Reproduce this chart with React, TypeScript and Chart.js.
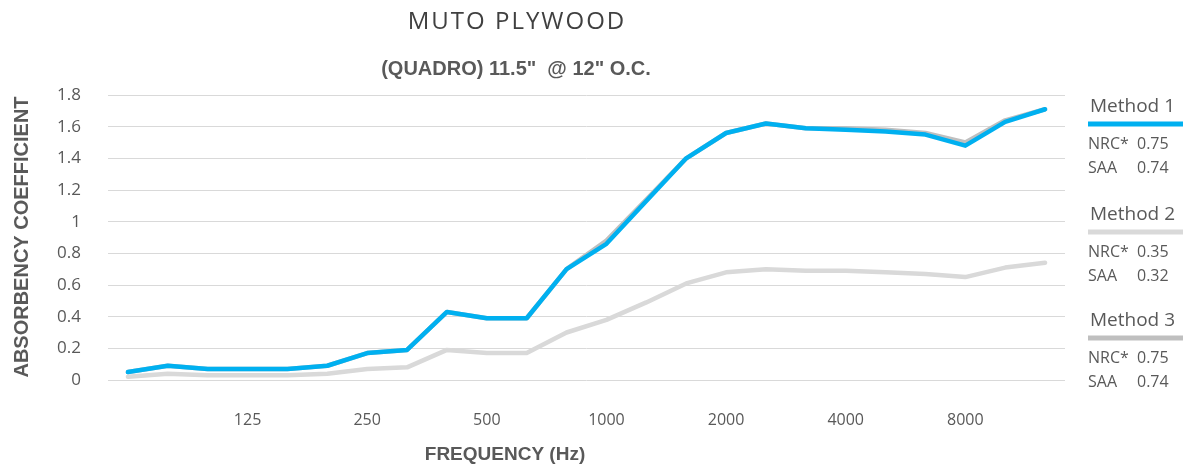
import React, { useEffect, useRef } from 'react';
import { Chart, registerables } from 'chart.js';

Chart.register(...registerables);

const FREQUENCIES = ['63', '80', '100', '125', '160', '200', '250', '315', '400', '500', '630', '800', '1000', '1250', '1600', '2000', '2500', '3150', '4000', '5000', '6300', '8000', '10000', '12500'];
const X_TICK_LABELS = ['', '', '', '125', '', '', '250', '', '', '500', '', '', '1000', '', '', '2000', '', '', '4000', '', '', '8000', '', ''];
const METHOD_1 = [0.05, 0.09, 0.07, 0.07, 0.07, 0.09, 0.17, 0.19, 0.43, 0.39, 0.39, 0.70, 0.86, 1.13, 1.40, 1.56, 1.62, 1.59, 1.58, 1.57, 1.55, 1.48, 1.63, 1.71];
const METHOD_2 = [0.02, 0.04, 0.03, 0.03, 0.03, 0.04, 0.07, 0.08, 0.19, 0.17, 0.17, 0.30, 0.38, 0.49, 0.61, 0.68, 0.70, 0.69, 0.69, 0.68, 0.67, 0.65, 0.71, 0.74];
const METHOD_3 = [0.05, 0.09, 0.07, 0.07, 0.07, 0.09, 0.17, 0.19, 0.43, 0.39, 0.39, 0.70, 0.88, 1.14, 1.40, 1.56, 1.62, 1.59, 1.59, 1.58, 1.56, 1.50, 1.64, 1.71];
const SERIES_NAMES = ['Method 1', 'Method 2', 'Method 3'];
const SERIES_COLORS = ['#00B0F0', '#D9D9D9', '#BFBFBF'];
const NRC_VALUES = ['0.75', '0.35', '0.75'];
const SAA_VALUES = ['0.74', '0.32', '0.74'];
const TITLE = 'MUTO PLYWOOD';
const SUBTITLE = '(QUADRO) 11.5"  @ 12" O.C.';
const X_TITLE = 'FREQUENCY (Hz)';
const Y_TITLE = 'ABSORBENCY COEFFICIENT';

const LIGHT = "'Open Sans', 'DejaVu Sans', sans-serif";
const BOLD = "'Liberation Sans', Arial, sans-serif";
const TEXT = '#595959';

const textPlugin = {
  id: 'textPlugin',
  afterDraw(chart: any) {
    const ctx = chart.ctx as any;
    ctx.save();
    ctx.textBaseline = 'alphabetic';
    // titles
    ctx.fillStyle = '#404040';
    ctx.font = `24px ${LIGHT}`;
    ctx.textAlign = 'center';
    ctx.letterSpacing = '2px';
    ctx.fillText(TITLE, 517, 28.5);
    ctx.letterSpacing = '0px';
    ctx.fillStyle = TEXT;
    ctx.font = `bold 20px ${BOLD}`;
    ctx.fillText(SUBTITLE, 516, 75);
    ctx.font = `bold 19px ${BOLD}`;
    ctx.fillText(X_TITLE, 505, 460);
    ctx.save();
    ctx.font = `bold 20px ${BOLD}`;
    ctx.translate(28, 237);
    ctx.rotate(-Math.PI / 2);
    ctx.fillText(Y_TITLE, 0, 0);
    ctx.restore();
    // legend
    const lines = [124, 232, 338];
    ctx.textAlign = 'left';
    SERIES_NAMES.forEach((name, i) => {
      const ly = lines[i];
      ctx.fillStyle = TEXT;
      ctx.font = `19px ${LIGHT}`;
      ctx.fillText(name, 1090, ly - 12);
      ctx.fillStyle = SERIES_COLORS[i];
      ctx.fillRect(1088, ly - 2.5, 95, 5);
      ctx.fillStyle = TEXT;
      ctx.font = `16px ${LIGHT}`;
      ctx.fillText('NRC*', 1088, ly + 25);
      ctx.fillText(NRC_VALUES[i], 1137, ly + 25);
      ctx.fillText('SAA', 1088, ly + 49);
      ctx.fillText(SAA_VALUES[i], 1137, ly + 49);
    });
    ctx.restore();
  },
};

export default function App() {
  const ref = useRef<HTMLCanvasElement | null>(null);
  useEffect(() => {
    if (!ref.current) return;
    const chart = new Chart(ref.current, {
      type: 'line',
      data: {
        labels: FREQUENCIES,
        datasets: [
          { label: SERIES_NAMES[0], data: METHOD_1, borderColor: SERIES_COLORS[0] },
          { label: SERIES_NAMES[1], data: METHOD_2, borderColor: SERIES_COLORS[1] },
          { label: SERIES_NAMES[2], data: METHOD_3, borderColor: SERIES_COLORS[2] },
        ].map((d) => ({
          ...d,
          borderWidth: 4.5,
          pointRadius: 0,
          tension: 0,
          fill: false,
          borderCapStyle: 'round' as const,
          borderJoinStyle: 'round' as const,
        })),
      },
      options: {
        animation: false,
        responsive: false,
        maintainAspectRatio: false,
        layout: { padding: { top: 95, right: 125, left: 0, bottom: 0 } },
        plugins: { legend: { display: false }, tooltip: { enabled: false }, title: { display: false } },
        scales: {
          x: {
            type: 'category',
            offset: true,
            grid: { display: false },
            border: { display: false },
            afterFit: (s: any) => { s.height = 84; },
            ticks: {
              autoSkip: false,
              maxRotation: 0,
              padding: 23,
              color: TEXT,
              font: { family: LIGHT, size: 16 },
              callback: (_v: any, i: number) => X_TICK_LABELS[i],
            },
          },
          y: {
            min: 0,
            max: 1.8,
            grid: { color: '#D9D9D9', lineWidth: 1, drawTicks: false },
            border: { display: false },
            afterFit: (s: any) => { s.width = 108; },
            ticks: {
              stepSize: 0.2,
              padding: 27,
              color: TEXT,
              font: { family: LIGHT, size: 17 },
              callback: (v: any) => String(Number(Number(v).toFixed(1))),
            },
          },
        },
      },
      plugins: [textPlugin],
    });
    return () => chart.destroy();
  }, []);
  return (
    <div style={{ position: 'absolute', left: 0, top: 0, width: 1190, height: 464, background: '#fff' }}>
      <canvas ref={ref} width={1190} height={464} style={{ display: 'block', width: 1190, height: 464 }} />
    </div>
  );
}
